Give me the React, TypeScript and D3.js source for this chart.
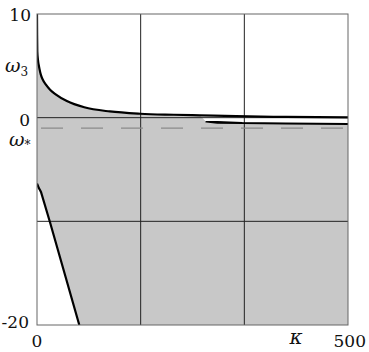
import * as d3 from "d3";

// kappa range and omega range
const xDomain = [0, 500];
const yDomain = [-20, 10];
const xGrid = [500 / 3, 1000 / 3];
const yGrid = [0, -10];
const omegaStar = -1.0;

// upper branch omega_3(kappa)
const upperK = [0, 0.2, 0.5, 1.5, 2.7, 4, 5.9, 9, 14, 21, 30, 48, 76, 117, 166, 220, 262, 320, 400, 500];
const upperW = [10, 8, 6.4, 5.6, 5.1, 4.7, 4.2, 3.7, 3.2, 2.7, 2.25, 1.6, 1.0, 0.6, 0.38, 0.28, 0.22, 0.14, 0.07, 0.02];

// thin tongue branch near zero
const tongueK = [272, 290, 330, 400, 500];
const tongueW = [-0.4, -0.46, -0.52, -0.56, -0.6];

// lower branch
const lowerK = [0, 0.5, 3, 4.8, 6.4, 20.9, 68];
const lowerW = [-6.4, -6.42, -6.8, -6.97, -7.17, -10.09, -20];

type Pt = [number, number];

const FONT = "DejaVu Serif";

export default function App() {
  const W = 369;
  const H = 352;
  const left = 37;
  const right = 348;
  const top = 14;
  const bottom = 325;

  const x = d3.scaleLinear().domain(xDomain).range([left, right]);
  const y = d3.scaleLinear().domain(yDomain).range([bottom, top]);

  const upper: Pt[] = upperK.map((k, i) => [k, upperW[i]]);
  const tongue: Pt[] = tongueK.map((k, i) => [k, tongueW[i]]);
  const lower: Pt[] = lowerK.map((k, i) => [k, lowerW[i]]);

  const line = d3
    .line<Pt>()
    .x((d) => x(d[0]))
    .y((d) => y(d[1]))
    .curve(d3.curveMonotoneX);

  const straight = d3
    .line<Pt>()
    .x((d) => x(d[0]))
    .y((d) => y(d[1]));

  // grey region: below upper branch / tongue, right of lower branch
  const upperPart = upper.filter((d) => d[0] <= 262);
  const region: Pt[] = [
    ...upperPart,
    ...tongue,
    [xDomain[1], yDomain[0]],
    ...lower.slice().reverse(),
  ];

  // tongue drawn as a thin wedge, a little thicker at its tip
  const tongueUpper: Pt[] = tongue.map((d, i) => [d[0], d[1] + (i === 0 ? 0 : i === 1 ? 0.06 : 0.02)]);
  const tongueLower: Pt[] = tongue.map((d, i) => [d[0], d[1] - (i === 0 ? 0 : i === 1 ? 0.06 : 0.02)]);

  return (
    <svg
      width={W}
      height={H}
      style={{ position: "absolute", left: 0, top: 0, background: "#fff" }}
    >
      <defs>
        <clipPath id="plot">
          <rect x={left} y={top} width={right - left} height={bottom - top} />
        </clipPath>
      </defs>
      <g clipPath="url(#plot)">
        <path d={(straight(region) ?? "") + "Z"} fill="#c8c8c8" stroke="none" />
        {xGrid.map((v) => (
          <line key={v} x1={x(v)} x2={x(v)} y1={top} y2={bottom} stroke="#222" strokeWidth={1} />
        ))}
        {yGrid.map((v) => (
          <line key={v} x1={left} x2={right} y1={y(v)} y2={y(v)} stroke="#222" strokeWidth={1} />
        ))}
        <line
          x1={left}
          x2={right}
          y1={y(omegaStar)}
          y2={y(omegaStar)}
          stroke="#8a8a8a"
          strokeWidth={1.2}
          strokeDasharray="22 18"
          strokeDashoffset={-4}
        />
        <path d={line(upper) ?? ""} fill="none" stroke="#000" strokeWidth={2.2} />
        <path
          d={(straight([...tongueUpper, ...tongueLower.slice().reverse()]) ?? "") + "Z"}
          fill="#000"
          stroke="#000"
          strokeWidth={1.6}
          strokeLinejoin="round"
        />
        <path d={straight(lower) ?? ""} fill="none" stroke="#000" strokeWidth={2.2} />
      </g>
      <rect
        x={left}
        y={top}
        width={right - left}
        height={bottom - top}
        fill="none"
        stroke="#666"
        strokeWidth={1}
      />
      <g fontSize={17} fill="#111">
        <text fontFamily={FONT} x={31} y={21} textAnchor="end">10</text>
        <text fontFamily={FONT} x={30} y={126} textAnchor="end">0</text>
        <text fontFamily={FONT} x={29} y={328} textAnchor="end">-20</text>
        <text fontFamily={FONT} x={37} y={347} textAnchor="middle">0</text>
        <text fontFamily={FONT} x={366} y={347} textAnchor="end">500</text>
        <text fontFamily={FONT} x={296} y={344} textAnchor="middle" fontStyle="italic" fontSize={20}>κ</text>
        <text fontFamily={FONT} x={5} y={72} fontStyle="italic" fontSize={19}>
          ω<tspan fontStyle="normal" fontSize={12} dy={4}>3</tspan>
        </text>
        <text fontFamily={FONT} x={9} y={146} fontStyle="italic" fontSize={19}>
          ω<tspan fontStyle="normal" fontSize={12} dy={3}>*</tspan>
        </text>
      </g>
    </svg>
  );
}
